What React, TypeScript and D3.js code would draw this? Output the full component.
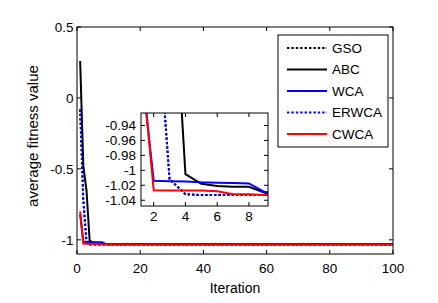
import React, { useRef, useEffect } from "react";
import * as d3 from "d3";

// iteration breakpoints (lines are flat after iteration 10)
const iterations = [1, 2, 3, 4, 5, 6, 7, 8, 9, 10, 100];

const gso = [-0.08, -0.72, -1.012, -1.032, -1.033, -1.033, -1.033, -1.033, -1.033, -1.033, -1.033];
const abc = [0.26, -0.48, -0.65, -1.005, -1.018, -1.021, -1.022, -1.022, -1.03, -1.031, -1.031];
const wca = [-0.82, -1.014, -1.0145, -1.015, -1.016, -1.0165, -1.017, -1.0175, -1.029, -1.03, -1.03];
const erwca = [-0.08, -0.72, -1.012, -1.032, -1.033, -1.033, -1.033, -1.033, -1.033, -1.033, -1.033];
const cwca = [-0.8, -1.0265, -1.027, -1.027, -1.027, -1.028, -1.032, -1.032, -1.033, -1.033, -1.033];

const seriesNames = ["GSO", "ABC", "WCA", "ERWCA", "CWCA"];
const seriesValues = [gso, abc, wca, erwca, cwca];
const seriesColors = ["#000000", "#000000", "#0000ff", "#0000ff", "#ff0000"];
const seriesDotted = [true, false, false, true, false];

const xTicks = [0, 20, 40, 60, 80, 100];
const yTicks = [-1, -0.5, 0, 0.5];
const insetXTicks = [2, 4, 6, 8];
const insetYTicks = [-1.04, -1.02, -1, -0.98, -0.96, -0.94];

const FONT = "'Liberation Sans', Arial, Helvetica, sans-serif";

const App = () => {
  const svgRef = useRef<SVGSVGElement>(null);

  useEffect(() => {
    const svg = d3.select(svgRef.current);
    svg.selectAll("*").remove();

    const main = { left: 77, right: 393, top: 27, bottom: 254 };
    const inset = { left: 141, right: 268, top: 113, bottom: 206 };

    const x = d3.scaleLinear().domain([0, 100]).range([main.left, main.right]);
    const y = d3.scaleLinear().domain([-1.1, 0.5]).range([main.bottom, main.top]);
    const xi = d3.scaleLinear().domain([1.2, 9.2]).range([inset.left, inset.right]);
    const yi = d3.scaleLinear().domain([-1.0477, -0.9233]).range([inset.bottom, inset.top]);

    const defs = svg.append("defs");
    defs
      .append("clipPath")
      .attr("id", "clip-main")
      .append("rect")
      .attr("x", main.left)
      .attr("y", main.top)
      .attr("width", main.right - main.left)
      .attr("height", main.bottom - main.top);
    defs
      .append("clipPath")
      .attr("id", "clip-inset")
      .append("rect")
      .attr("x", inset.left)
      .attr("y", inset.top)
      .attr("width", inset.right - inset.left)
      .attr("height", inset.bottom - inset.top);

    const drawBox = (
      box: { left: number; right: number; top: number; bottom: number },
      sx: d3.ScaleLinear<number, number>,
      sy: d3.ScaleLinear<number, number>,
      xt: number[],
      yt: number[],
      xLabelY: number,
      yLabelX: number
    ) => {
      const g = svg.append("g");
      g.append("rect")
        .attr("x", box.left)
        .attr("y", box.top)
        .attr("width", box.right - box.left)
        .attr("height", box.bottom - box.top)
        .attr("fill", "none")
        .attr("stroke", "#000")
        .attr("stroke-width", 1);
      xt.forEach((t) => {
        g.append("line")
          .attr("x1", sx(t)).attr("x2", sx(t))
          .attr("y1", box.bottom).attr("y2", box.bottom - 4)
          .attr("stroke", "#000");
        g.append("line")
          .attr("x1", sx(t)).attr("x2", sx(t))
          .attr("y1", box.top).attr("y2", box.top + 4)
          .attr("stroke", "#000");
        g.append("text")
          .attr("x", sx(t))
          .attr("y", xLabelY)
          .attr("text-anchor", "middle")
          .attr("font-family", FONT)
          .attr("font-size", 13.5)
          .text(String(t));
      });
      yt.forEach((t) => {
        g.append("line")
          .attr("x1", box.left).attr("x2", box.left + 4)
          .attr("y1", sy(t)).attr("y2", sy(t))
          .attr("stroke", "#000");
        g.append("line")
          .attr("x1", box.right).attr("x2", box.right - 4)
          .attr("y1", sy(t)).attr("y2", sy(t))
          .attr("stroke", "#000");
        g.append("text")
          .attr("x", yLabelX)
          .attr("y", sy(t))
          .attr("dy", "0.35em")
          .attr("text-anchor", "end")
          .attr("font-family", FONT)
          .attr("font-size", 13.5)
          .text(String(t));
      });
    };

    const drawLines = (
      sx: d3.ScaleLinear<number, number>,
      sy: d3.ScaleLinear<number, number>,
      clip: string
    ) => {
      const line = d3
        .line<number>()
        .x((d, i) => sx(iterations[i]))
        .y((d) => sy(d));
      const g = svg.append("g").attr("clip-path", `url(#${clip})`);
      seriesValues.forEach((vals, i) => {
        g.append("path")
          .attr("d", line(vals))
          .attr("fill", "none")
          .attr("stroke", seriesColors[i])
          .attr("stroke-width", 2)
          .attr("stroke-dasharray", seriesDotted[i] ? "2.4,2" : null);
      });
    };

    // main plot
    drawLines(x, y, "clip-main");
    drawBox(main, x, y, xTicks, yTicks, 272.5, 73.5);

    // inset
    svg.append("rect")
      .attr("x", inset.left)
      .attr("y", inset.top)
      .attr("width", inset.right - inset.left)
      .attr("height", inset.bottom - inset.top)
      .attr("fill", "#fff");
    drawLines(xi, yi, "clip-inset");
    drawBox(inset, xi, yi, insetXTicks, insetYTicks, 221, 136);

    // axis labels
    svg.append("text")
      .attr("x", (main.left + main.right) / 2)
      .attr("y", 292.5)
      .attr("text-anchor", "middle")
      .attr("font-family", FONT)
      .attr("font-size", 14)
      .text("Iteration");
    svg.append("text")
      .attr("transform", `translate(37.5,136) rotate(-90)`)
      .attr("text-anchor", "middle")
      .attr("font-family", FONT)
      .attr("font-size", 15)
      .text("average fitness value");

    // legend
    const legend = svg.append("g");
    legend.append("rect")
      .attr("x", 278)
      .attr("y", 35)
      .attr("width", 110)
      .attr("height", 112)
      .attr("fill", "#fff")
      .attr("stroke", "#000");
    seriesNames.forEach((name, i) => {
      const ly = 48 + i * 21.5;
      legend.append("line")
        .attr("x1", 287).attr("x2", 327)
        .attr("y1", ly).attr("y2", ly)
        .attr("stroke", seriesColors[i])
        .attr("stroke-width", 2)
        .attr("stroke-dasharray", seriesDotted[i] ? "2.4,2" : null);
      legend.append("text")
        .attr("x", 332)
        .attr("y", ly)
        .attr("dy", "0.35em")
        .attr("font-family", FONT)
        .attr("font-size", 13.5)
        .text(name);
    });
  }, []);

  return (
    <svg
      ref={svgRef}
      width={438}
      height={303}
      style={{ position: "absolute", left: 0, top: 0, background: "#fff" }}
    />
  );
};

export default App;
